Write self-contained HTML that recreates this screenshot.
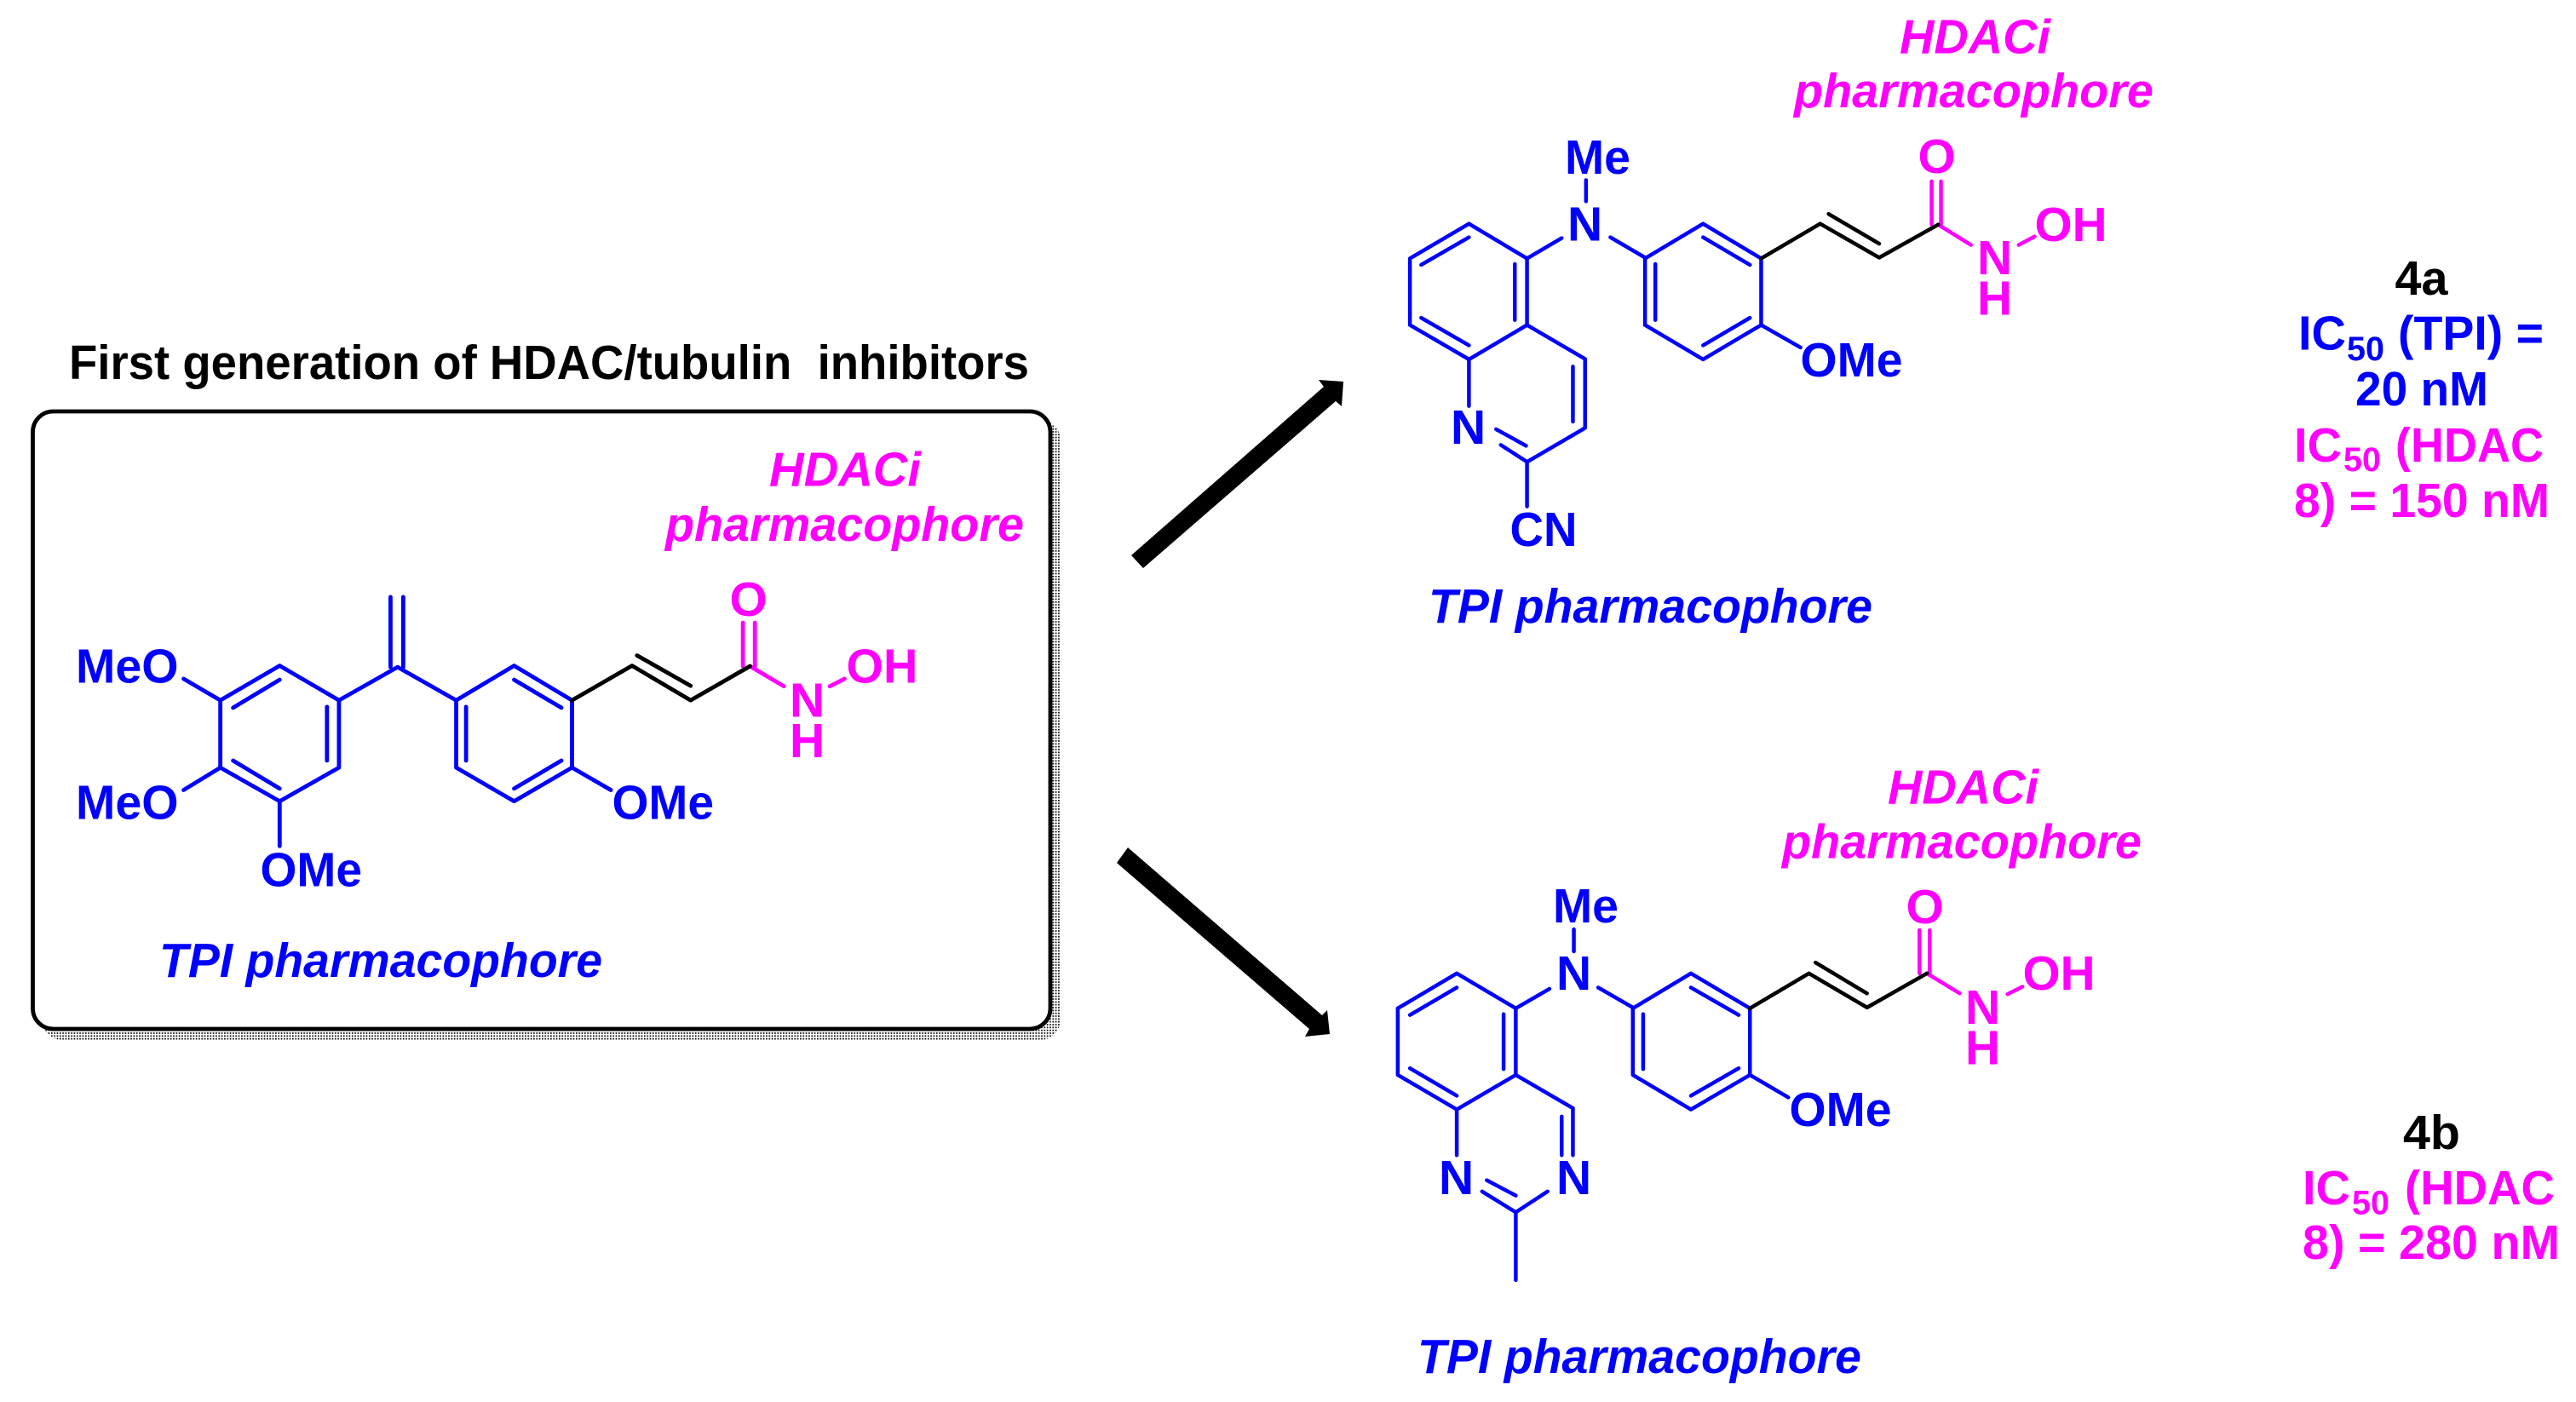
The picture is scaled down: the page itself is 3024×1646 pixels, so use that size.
<!DOCTYPE html>
<html><head><meta charset="utf-8"><style>
html,body{margin:0;padding:0;background:#fff;width:3024px;height:1646px;overflow:hidden}
svg{display:block}
text{font-family:"Liberation Sans",sans-serif;font-weight:bold;font-size:57px}
.i{font-style:italic}
.b{fill:#0000ff}.m{fill:#ff00ff}.k{fill:#000}
.s{font-size:40px}
line,polyline,polygon.l{vector-effect:non-scaling-stroke;fill:none;stroke-linecap:round;stroke-linejoin:round}
.B line,.B polyline{stroke:#0000ff}.M line,.M polyline{stroke:#ff00ff}.K line,.K polyline{stroke:#000}
</style></head><body>
<svg width="3024" height="1646" viewBox="0 0 3024 1646" xmlns="http://www.w3.org/2000/svg">
<defs><pattern id="d" width="3.33" height="3.33" patternUnits="userSpaceOnUse"><rect width="1.7" height="1.7" fill="#000"/></pattern></defs>
<rect width="3024" height="1646" fill="#fff"/>

<!-- title and box -->
<text x="81" y="445" class="k" textLength="1127" lengthAdjust="spacingAndGlyphs">First generation of HDAC/tubulin&#160; inhibitors</text>
<rect x="49" y="493" width="1196" height="728" rx="24" fill="url(#d)"/>
<rect x="38.5" y="483" width="1194.5" height="725" rx="24" fill="#fff" stroke="#000" stroke-width="4.8"/>

<!-- molecule 1 -->
<g transform="translate(0,380) scale(.829,.5486)" stroke-width="4.8">
<g class="B">
<polyline points="396,732 480,806 480,950 396,1022 312,950 312,806 396,732"/>
<line x1="330" y1="822" x2="396" y2="762"/><line x1="463" y1="820" x2="463" y2="935"/><line x1="330" y1="935" x2="396" y2="995"/>
<line x1="480" y1="806" x2="563" y2="735"/><line x1="553" y1="735" x2="553" y2="585"/><line x1="571" y1="735" x2="571" y2="585"/>
<line x1="563" y1="735" x2="646" y2="806"/>
<polyline points="728,732 810,806 810,950 728,1022 646,950 646,806 728,732"/>
<line x1="728" y1="762" x2="795" y2="822"/><line x1="660" y1="820" x2="660" y2="935"/><line x1="728" y1="995" x2="795" y2="935"/>
<line x1="260" y1="760" x2="312" y2="806"/><line x1="260" y1="998" x2="312" y2="950"/><line x1="396" y1="1022" x2="396" y2="1118"/><line x1="810" y1="950" x2="865" y2="998"/>
</g>
<g class="M">
<line x1="1052" y1="640" x2="1052" y2="733"/><line x1="1069" y1="640" x2="1069" y2="735"/>
<line x1="1062" y1="733" x2="1110" y2="776"/><line x1="1175" y1="776" x2="1196" y2="760"/>
</g>
<g class="K">
<polyline points="810,806 895,732 978,806 1062,733"/><line x1="902" y1="710" x2="978" y2="775"/>
</g>
</g>
<text x="903" y="570.5" class="m i" textLength="178" lengthAdjust="spacingAndGlyphs">HDACi</text>
<text x="781" y="635" class="m i" textLength="421" lengthAdjust="spacingAndGlyphs">pharmacophore</text>
<text x="187" y="1147" class="b i" textLength="520" lengthAdjust="spacingAndGlyphs">TPI pharmacophore</text>
<text x="89" y="801.5" class="b" textLength="120.5" lengthAdjust="spacingAndGlyphs">MeO</text>
<text x="89" y="961.5" class="b" textLength="120.5" lengthAdjust="spacingAndGlyphs">MeO</text>
<text x="305.5" y="1040.5" class="b" textLength="119.5" lengthAdjust="spacingAndGlyphs">OMe</text>
<text x="718.5" y="961.5" class="b" textLength="119.5" lengthAdjust="spacingAndGlyphs">OMe</text>
<text x="856.5" y="723" class="m">O</text>
<text x="927" y="841.5" class="m">N</text>
<text x="927" y="889" class="m">H</text>
<text x="993.5" y="801.5" class="m" textLength="84" lengthAdjust="spacingAndGlyphs">OH</text>

<!-- arrows -->
<polygon fill="#000" points="1328,652 1554,454 1548,446 1577,448 1575,477 1568,471 1342,667"/>
<polygon fill="#000" points="1324,995 1552,1192 1558,1186 1561,1214 1532,1217 1537,1208 1311,1013"/>

<!-- molecule 2 -->
<g transform="translate(1300,0) scale(1.0995,.4975)" stroke-width="4.5">
<g class="B">
<polyline points="386,528 448,610 448,767 386,848 323,767 323,610 386,528"/>
<line x1="335" y1="625" x2="386" y2="560"/><line x1="435" y1="623" x2="435" y2="755"/><line x1="335" y1="750" x2="386" y2="815"/>
<polyline points="448,767 510,847 510,1010 448,1090 420,1050"/>
<line x1="497" y1="865" x2="497" y2="995"/><line x1="415" y1="1013" x2="447" y2="1052"/>
<line x1="386" y1="848" x2="386" y2="958"/><line x1="448" y1="1090" x2="448" y2="1195"/>
<line x1="448" y1="610" x2="485" y2="562"/><line x1="537" y1="560" x2="574" y2="608"/><line x1="511" y1="425" x2="511" y2="475"/>
<polyline points="636,528 698,610 698,767 636,848 574,767 574,610 636,528"/>
<line x1="636" y1="560" x2="686" y2="625"/><line x1="585" y1="623" x2="585" y2="755"/><line x1="636" y1="815" x2="686" y2="750"/>
<line x1="698" y1="767" x2="740" y2="820"/>
</g>
<g class="M">
<line x1="880" y1="428" x2="880" y2="530"/><line x1="890" y1="428" x2="890" y2="530"/>
<line x1="887" y1="530" x2="922" y2="578"/><line x1="973" y1="578" x2="990" y2="558"/>
</g>
<g class="K">
<polyline points="698,610 761,528 824,608 887,530"/><line x1="770" y1="505" x2="824" y2="575"/>
</g>
</g>
<text x="2230" y="62.5" class="m i" textLength="177" lengthAdjust="spacingAndGlyphs">HDACi</text>
<text x="2106" y="126" class="m i" textLength="422" lengthAdjust="spacingAndGlyphs">pharmacophore</text>
<text x="1677" y="731" class="b i" textLength="521" lengthAdjust="spacingAndGlyphs">TPI pharmacophore</text>
<text x="1837" y="204" class="b" textLength="77" lengthAdjust="spacingAndGlyphs">Me</text>
<text x="1840" y="282.5" class="b">N</text>
<text x="1703" y="521" class="b">N</text>
<text x="1772.5" y="641" class="b" textLength="79" lengthAdjust="spacingAndGlyphs">CN</text>
<text x="2113.5" y="442" class="b" textLength="120" lengthAdjust="spacingAndGlyphs">OMe</text>
<text x="2251.5" y="203" class="m">O</text>
<text x="2321" y="322" class="m">N</text>
<text x="2321" y="369.5" class="m">H</text>
<text x="2388.5" y="283" class="m" textLength="85" lengthAdjust="spacingAndGlyphs">OH</text>
<text x="2811.5" y="346" class="k" textLength="62" lengthAdjust="spacingAndGlyphs">4a</text>
<text x="2698" y="410.5" class="b" textLength="56" lengthAdjust="spacingAndGlyphs">IC</text>
<text x="2755" y="423" class="b s" textLength="44" lengthAdjust="spacingAndGlyphs">50</text>
<text x="2815" y="410.5" class="b" textLength="171" lengthAdjust="spacingAndGlyphs">(TPI) =</text>
<text x="2765" y="476" class="b" textLength="156" lengthAdjust="spacingAndGlyphs">20 nM</text>
<text x="2693" y="542" class="m" textLength="56" lengthAdjust="spacingAndGlyphs">IC</text>
<text x="2751" y="553" class="m s" textLength="44" lengthAdjust="spacingAndGlyphs">50</text>
<text x="2812" y="542" class="m" textLength="174" lengthAdjust="spacingAndGlyphs">(HDAC</text>
<text x="2693" y="607" class="m" textLength="300" lengthAdjust="spacingAndGlyphs">8) = 150 nM</text>

<!-- molecule 3 -->
<g transform="translate(1300,880) scale(1.0995,.4885)" stroke-width="4.5">
<g class="B">
<polyline points="373,538 436,622 436,782 373,865 310,782 310,622 373,538"/>
<line x1="323" y1="638" x2="373" y2="572"/><line x1="423" y1="636" x2="423" y2="768"/><line x1="323" y1="766" x2="373" y2="832"/>
<line x1="436" y1="782" x2="497" y2="862"/><line x1="497" y1="862" x2="497" y2="975"/><line x1="485" y1="882" x2="485" y2="975"/>
<line x1="373" y1="865" x2="373" y2="975"/>
<polyline points="400,1062 436,1112 470,1062"/><line x1="405" y1="1035" x2="436" y2="1072"/>
<line x1="436" y1="1112" x2="436" y2="1275"/>
<line x1="436" y1="622" x2="472" y2="575"/><line x1="524" y1="572" x2="561" y2="620"/><line x1="498" y1="432" x2="498" y2="485"/>
<polyline points="623,538 686,622 686,782 623,865 561,782 561,622 623,538"/>
<line x1="623" y1="572" x2="674" y2="638"/><line x1="572" y1="636" x2="572" y2="768"/><line x1="623" y1="832" x2="674" y2="766"/>
<line x1="686" y1="782" x2="727" y2="836"/>
</g>
<g class="M">
<line x1="867" y1="434" x2="867" y2="538"/><line x1="878" y1="434" x2="878" y2="538"/>
<line x1="875" y1="538" x2="910" y2="586"/><line x1="961" y1="588" x2="977" y2="570"/>
</g>
<g class="K">
<polyline points="686,622 749,538 811,620 875,538"/><line x1="756" y1="512" x2="811" y2="586"/>
</g>
</g>
<text x="2216" y="943.5" class="m i" textLength="177" lengthAdjust="spacingAndGlyphs">HDACi</text>
<text x="2092" y="1007.5" class="m i" textLength="422" lengthAdjust="spacingAndGlyphs">pharmacophore</text>
<text x="1664" y="1612" class="b i" textLength="521" lengthAdjust="spacingAndGlyphs">TPI pharmacophore</text>
<text x="1823" y="1083" class="b" textLength="77" lengthAdjust="spacingAndGlyphs">Me</text>
<text x="1827" y="1162" class="b">N</text>
<text x="1689" y="1402" class="b">N</text>
<text x="1827" y="1402" class="b">N</text>
<text x="2100.5" y="1322" class="b" textLength="120" lengthAdjust="spacingAndGlyphs">OMe</text>
<text x="2237.5" y="1084" class="m">O</text>
<text x="2307" y="1202" class="m">N</text>
<text x="2307" y="1249.5" class="m">H</text>
<text x="2374.5" y="1162" class="m" textLength="85" lengthAdjust="spacingAndGlyphs">OH</text>
<text x="2821" y="1349" class="k" textLength="67" lengthAdjust="spacingAndGlyphs">4b</text>
<text x="2703" y="1414" class="m" textLength="56" lengthAdjust="spacingAndGlyphs">IC</text>
<text x="2761" y="1425.5" class="m s" textLength="44" lengthAdjust="spacingAndGlyphs">50</text>
<text x="2823" y="1414" class="m" textLength="176" lengthAdjust="spacingAndGlyphs">(HDAC</text>
<text x="2703" y="1478" class="m" textLength="302" lengthAdjust="spacingAndGlyphs">8) = 280 nM</text>
</svg>
</body></html>
